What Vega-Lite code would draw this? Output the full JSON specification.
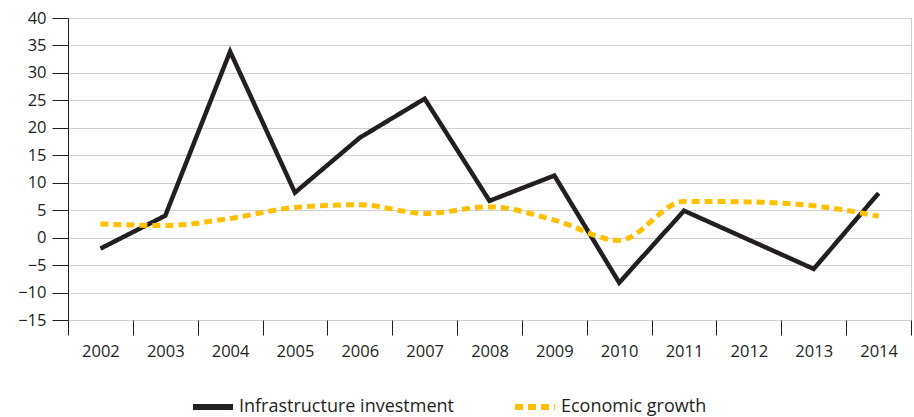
{
  "$schema": "https://vega.github.io/schema/vega-lite/v6.json",
  "width": 843,
  "height": 302,
  "autosize": {"type": "none"},
  "padding": {"left": 68, "top": 18, "right": 3, "bottom": 97},
  "background": "white",
  "config": {
    "view": {"stroke": "#d0d0d0", "strokeWidth": 1},
    "font": "Open Sans",
    "axis": {"labelFont": "Open Sans", "labelFontSize": 16.5, "labelColor": "#231f20"},
    "legend": {"labelFont": "Open Sans", "labelFontSize": 18, "labelColor": "#231f20", "labelLimit": 400}
  },
  "datasets": {
    "invest": [
      {"year": "2002", "series": "Infrastructure investment", "value": -2.0},
      {"year": "2003", "series": "Infrastructure investment", "value": 4.0},
      {"year": "2004", "series": "Infrastructure investment", "value": 33.9},
      {"year": "2005", "series": "Infrastructure investment", "value": 8.2},
      {"year": "2006", "series": "Infrastructure investment", "value": 18.2},
      {"year": "2007", "series": "Infrastructure investment", "value": 25.3},
      {"year": "2008", "series": "Infrastructure investment", "value": 6.7},
      {"year": "2009", "series": "Infrastructure investment", "value": 11.3},
      {"year": "2010", "series": "Infrastructure investment", "value": -8.2},
      {"year": "2011", "series": "Infrastructure investment", "value": 4.9},
      {"year": "2012", "series": "Infrastructure investment", "value": -0.4},
      {"year": "2013", "series": "Infrastructure investment", "value": -5.7},
      {"year": "2014", "series": "Infrastructure investment", "value": 8.1}
    ],
    "growth": [
      {"year": "2002", "series": "Economic growth", "value": 2.5},
      {"year": "2003", "series": "Economic growth", "value": 2.2},
      {"year": "2004", "series": "Economic growth", "value": 3.5},
      {"year": "2005", "series": "Economic growth", "value": 5.5},
      {"year": "2006", "series": "Economic growth", "value": 6.0},
      {"year": "2007", "series": "Economic growth", "value": 4.4},
      {"year": "2008", "series": "Economic growth", "value": 5.6},
      {"year": "2009", "series": "Economic growth", "value": 3.2},
      {"year": "2010", "series": "Economic growth", "value": -0.5},
      {"year": "2011", "series": "Economic growth", "value": 6.6},
      {"year": "2012", "series": "Economic growth", "value": 6.5},
      {"year": "2013", "series": "Economic growth", "value": 5.8},
      {"year": "2014", "series": "Economic growth", "value": 3.9}
    ]
  },
  "encoding": {
    "x": {
      "field": "year", "type": "ordinal",
      "scale": {"type": "band", "paddingInner": 0, "paddingOuter": 0},
      "axis": {
        "title": null, "labelAngle": 0, "domain": false, "grid": false,
        "tickBand": "extent", "tickSize": 15, "tickColor": "#231f20", "tickWidth": 1,
        "labelPadding": 8
      }
    },
    "y": {
      "field": "value", "type": "quantitative",
      "scale": {"domain": [-15, 40], "nice": false, "zero": false},
      "axis": {
        "title": null, "values": [-15, -10, -5, 0, 5, 10, 15, 20, 25, 30, 35, 40],
        "grid": true, "gridColor": "#d0d0d0", "gridWidth": 1,
        "domain": true, "domainColor": "#231f20", "domainWidth": 1,
        "tickSize": 16, "tickColor": "#231f20", "tickWidth": 1,
        "labelPadding": 6
      }
    }
  },
  "layer": [
    {
      "mark": {"type": "rule", "color": "#231f20", "strokeWidth": 1},
      "encoding": {"y": {"datum": 0}, "x": null}
    },
    {
      "data": {"name": "invest"},
      "mark": {"type": "line", "strokeWidth": 4.5, "interpolate": "linear", "strokeJoin": "miter"},
      "encoding": {
        "color": {
          "field": "series", "type": "nominal",
          "scale": {"domain": ["Infrastructure investment", "Economic growth"], "range": ["#231f20", "#ffc000"]},
          "legend": {
            "title": null, "orient": "none", "legendX": 122, "legendY": 366,
            "direction": "horizontal", "columns": 2, "columnPadding": 49,
            "symbolType": "stroke", "symbolSize": 1600, "symbolStrokeWidth": 6,
            "labelOffset": 3, "padding": 0
          }
        },
        "strokeDash": {
          "field": "series", "type": "nominal",
          "scale": {"domain": ["Infrastructure investment", "Economic growth"], "range": [[1, 0], [8, 5]]},
          "legend": {
            "title": null, "orient": "none", "legendX": 122, "legendY": 366,
            "direction": "horizontal", "columns": 2, "columnPadding": 49,
            "symbolType": "stroke", "symbolSize": 1600, "symbolStrokeWidth": 6,
            "labelOffset": 3, "padding": 0
          }
        }
      }
    },
    {
      "data": {"name": "growth"},
      "mark": {"type": "line", "strokeWidth": 5, "interpolate": "monotone"},
      "encoding": {
        "color": {"field": "series", "type": "nominal"},
        "strokeDash": {"field": "series", "type": "nominal"}
      }
    }
  ]
}
